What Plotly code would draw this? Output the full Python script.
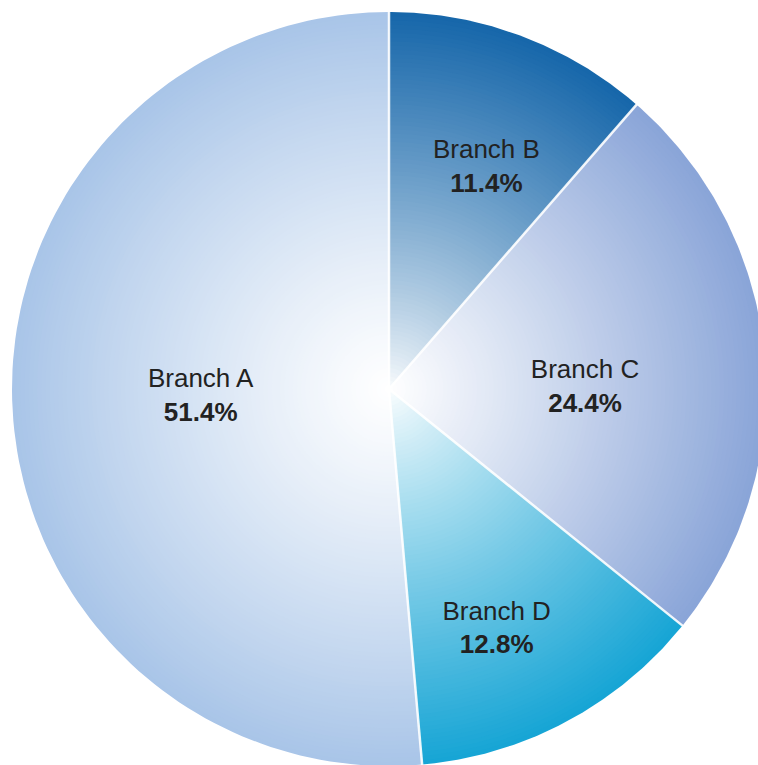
import numpy as np
import plotly.graph_objects as go

# Branch shares, in drawing order (clockwise from 12 o'clock)
branches = ["Branch B", "Branch C", "Branch D", "Branch A"]
shares = [11.4, 24.4, 12.8, 51.4]

# Outer colour of each wedge; each fades to white towards the centre
edge_colors = ["#1767aa", "#8aa5d8", "#17a5d5", "#a9c5e8"]
# How quickly each wedge reaches its outer colour (higher = lighter centre)
fade_power = [0.8, 1.05, 0.85, 1.15]
# Label placement: fraction of the radius and a small angular nudge (degrees)
label_radius = [0.64, 0.52, 0.70, 0.50]
label_nudge = [3.3, 5.0, 4.0, 0.0]

W, H = 758, 765
R_PX = 377.0           # pie radius in pixels
CX, CY = 389.0, 389.0  # pie centre in pixels (from top-left)
N_LAYERS = 90


def hex_rgb(h):
    h = h.lstrip("#")
    return np.array([int(h[i:i + 2], 16) for i in (0, 2, 4)], dtype=float)


def blend(color, f):
    c = 255 * (1 - f) + hex_rgb(color) * f
    return "rgb(%d,%d,%d)" % tuple(np.round(c).astype(int))


def wedge(r, a0, a1, n=120):
    th = np.linspace(a0, a1, n)
    xs = np.concatenate([[0.0], r * np.sin(th), [0.0]])
    ys = np.concatenate([[0.0], r * np.cos(th), [0.0]])
    return xs, ys


total = sum(shares)
fracs = [s / total for s in shares]
bounds = np.concatenate([[0.0], np.cumsum(fracs)]) * 2 * np.pi

fig = go.Figure()

# radial gradient built from stacked wedges, outermost first
for k in range(N_LAYERS):
    r = 1.0 - k / N_LAYERS
    for i, col in enumerate(edge_colors):
        xs, ys = wedge(r, bounds[i], bounds[i + 1])
        fig.add_trace(go.Scatter(
            x=xs, y=ys, mode="lines", fill="toself",
            fillcolor=blend(col, r ** fade_power[i]), line=dict(width=0),
            hoverinfo="skip", showlegend=False,
        ))

# white separators between slices
for b in bounds[:-1]:
    fig.add_trace(go.Scatter(
        x=[0, np.sin(b) * 1.002], y=[0, np.cos(b) * 1.002],
        mode="lines", line=dict(color="rgba(255,255,255,0.9)", width=2.5),
        hoverinfo="skip", showlegend=False,
    ))

# slice labels with their percentages
mids = (bounds[:-1] + bounds[1:]) / 2 + np.radians(label_nudge)
lx = [lr * np.sin(m) for lr, m in zip(label_radius, mids)]
ly = [lr * np.cos(m) for lr, m in zip(label_radius, mids)]
texts = ["%s<br><b>%.1f%%</b>" % (n, s) for n, s in zip(branches, shares)]
fig.add_trace(go.Scatter(
    x=lx, y=ly, mode="text", text=texts,
    textposition="middle center",
    textfont=dict(family="Liberation Sans, Arial, sans-serif", size=26, color="#222222"),
    hoverinfo="skip", showlegend=False,
))

x_range = [-CX / R_PX, (W - CX) / R_PX]
y_range = [-(H - CY) / R_PX, CY / R_PX]

fig.update_layout(
    width=W, height=H,
    margin=dict(l=0, r=0, t=0, b=0),
    paper_bgcolor="white", plot_bgcolor="white",
    xaxis=dict(range=x_range, visible=False, fixedrange=True),
    yaxis=dict(range=y_range, visible=False, fixedrange=True),
    showlegend=False,
)

fig.write_html("out.html", config={"displayModeBar": False})
